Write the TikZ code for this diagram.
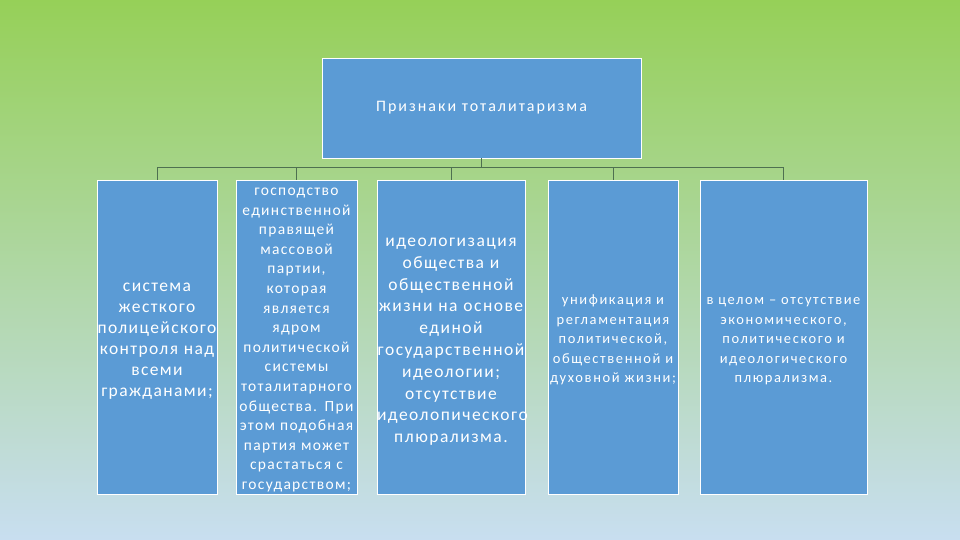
\documentclass[tikz,border=0pt]{standalone}
\usepackage{fontspec}
\setmainfont{Carlito}
\usetikzlibrary{positioning}
\definecolor{boxblue}{RGB}{91,155,213}
\definecolor{linegreen}{RGB}{78,112,80}
\definecolor{bgtop}{RGB}{150,208,88}
\definecolor{bgmid}{RGB}{168,208,172}
\definecolor{bgbot}{RGB}{200,222,240}
\newcommand{\topline}{\rule{0pt}{\baselineskip}}

\tikzset{
  sign/.style={draw=white, line width=0.8pt, fill=boxblue, text=white,
    inner sep=0pt, minimum height=314, align=center},
  conn/.style={draw=linegreen, line width=0.8pt}
}

\begin{document}
\begin{tikzpicture}[x=1pt,y=-1pt]
   % background
   \shade[top color=bgtop, middle color=bgmid, bottom color=bgbot]
     (0,0) rectangle (960,540);
   \useasboundingbox (0,0) rectangle (960,540);

   \node[sign, minimum width=319, minimum height=100,
     font=\fontsize{16}{18}\selectfont\addfontfeature{LetterSpace=12.5}] (title) at (481.5,108)
     {Признаки тоталитаризма};

   \node[sign, minimum width=120, text width=120,
     font=\fontsize{17.5}{21}\selectfont\addfontfeature{LetterSpace=8}] (c1) at (157,337)
     {\topline система\\ жесткого\\ полицейского\\ контроля над\\ всеми\\ гражданами;\strut};
   \node[sign, minimum width=121, text width=121,
     font=\fontsize{15.5}{19.6}\selectfont\addfontfeature{LetterSpace=8.5}] (c2) at (296.5,337)
     {\strut господство\\ единственной\\ правящей\\ массовой\\ партии,\\ которая\\ является\\ ядром\\
      политической\\ системы\\ тоталитарного\\ общества. При\\ этом подобная\\ партия может\\
      срастаться с\\ государством;};
   \node[sign, minimum width=148, text width=148,
     font=\fontsize{17.5}{21.8}\selectfont\addfontfeature{LetterSpace=8.5}] (c3) at (451,337)
     {\topline идеологизация\\ общества и\\ общественной\\ жизни на основе\\ единой\\ государственной\\
      идеологии;\\ отсутствие\\ идеолопического\\ плюрализма.\strut};
   \node[sign, minimum width=130, text width=130,
     font=\fontsize{14.5}{19.5}\selectfont\addfontfeature{LetterSpace=11}] (c4) at (613,337)
     {\topline унификация и\\ регламентация\\ политической,\\ общественной и\\ духовной жизни;\strut};
   \node[sign, minimum width=167, text width=167,
     font=\fontsize{14.5}{19.5}\selectfont\addfontfeature{LetterSpace=11}] (c5) at (783.5,337)
     {\topline в целом -- отсутствие\\ экономического,\\ политического и\\ идеологического\\ плюрализма.\strut};

   % tree connectors
   \foreach \c in {c1,c2,c3,c4,c5}
     \draw[conn] (title.south) -- ++(0,9) -| (\c.north);
\end{tikzpicture}
\end{document}
